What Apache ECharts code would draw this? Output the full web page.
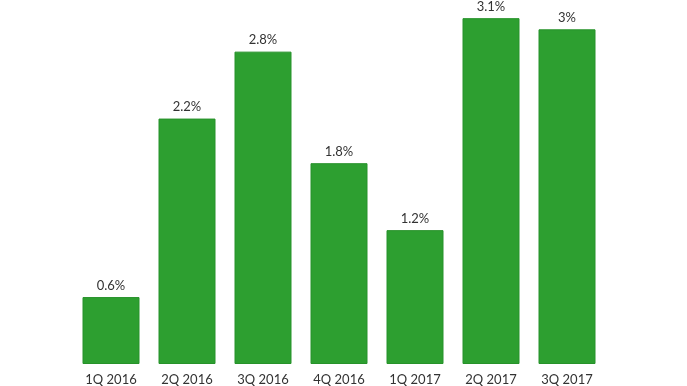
<!DOCTYPE html>
<html><head><meta charset="utf-8">
<script src="https://cdn.jsdelivr.net/npm/echarts@6/dist/echarts.min.js"></script>
<style>html,body{margin:0;padding:0;background:#fff}#c{width:687px;height:386px}</style>
</head><body><div id="c"></div>
<script>
const categories = ['1Q 2016','2Q 2016','3Q 2016','4Q 2016','1Q 2017','2Q 2017','3Q 2017'];
const values = [0.6, 2.2, 2.8, 1.8, 1.2, 3.1, 3.0];
const chart = echarts.init(document.getElementById('c'));
chart.setOption({
  animation: false,
  grid: {left: 73, right: 82, top: 7, bottom: 22},
  xAxis: {
    type: 'category', data: categories,
    axisLine: {show: false}, axisTick: {show: false},
    axisLabel: {color: '#333', fontSize: 13, fontFamily: 'Lato', margin: 9}
  },
  yAxis: {type: 'value', min: 0, max: 3.2, show: false, splitLine: {show: false}},
  series: [{
    type: 'bar', data: values, barWidth: 57,
    itemStyle: {color: '#2d9f30', borderColor: '#27922a', borderWidth: 1},
    label: {show: true, position: 'top', distance: 5, color: '#333', fontSize: 13, fontFamily: 'Lato',
      formatter: p => p.value + '%'}
  }]
});
</script></body></html>
